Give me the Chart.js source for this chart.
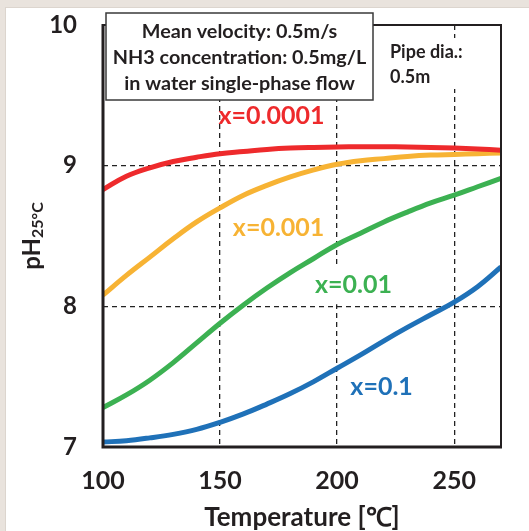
<!DOCTYPE html>
<html>
<head>
<meta charset="utf-8">
<script src="https://cdn.jsdelivr.net/npm/chart.js@4"></script>
<style>
  html, body { margin: 0; padding: 0; overflow: hidden; background: #e9e3dd; }
  #panel { position: absolute; left: 5px; top: 7px; right: 0; bottom: 0; background: #fff;
           border-left: 1px solid #dcd5ce; border-top: 1px solid #dcd5ce; }
  #wrap { position: absolute; left: 0; top: 0; width: 529px; height: 531px; }
</style>
</head>
<body>
<div id="panel"></div>
<div id="wrap"><canvas id="mainChart" width="529" height="531"></canvas></div>
<script>
// Data
const temps = [100, 110, 120, 130, 140, 150, 160, 170, 180, 190, 200, 210, 220, 230, 240, 250, 260, 270];
const phX0001 = [8.83, 8.925, 8.985, 9.03, 9.06, 9.085, 9.10, 9.115, 9.125, 9.13, 9.133, 9.135, 9.135, 9.133, 9.13, 9.125, 9.118, 9.11];
const phX001  = [8.08, 8.22, 8.35, 8.48, 8.60, 8.70, 8.79, 8.86, 8.92, 8.97, 9.01, 9.035, 9.05, 9.065, 9.075, 9.08, 9.085, 9.09];
const phX01   = [7.28, 7.37, 7.475, 7.60, 7.74, 7.88, 8.01, 8.13, 8.24, 8.34, 8.44, 8.52, 8.60, 8.67, 8.735, 8.79, 8.85, 8.91];
const phX1    = [7.035, 7.045, 7.065, 7.09, 7.125, 7.175, 7.235, 7.305, 7.38, 7.465, 7.56, 7.655, 7.755, 7.85, 7.94, 8.03, 8.14, 8.28];

const xTicks = [100, 150, 200, 250];
const yTicks = [7, 8, 9, 10];

// Curve labels (in data units)
const curveLabels = ['x=0.0001', 'x=0.001', 'x=0.01', 'x=0.1'];
const labelTemps = [172, 175, 207, 219];
const labelPh = [9.35, 8.56, 8.15, 7.43];
const labelBackdrop = [false, false, true, false];

const boxLines = ['Mean velocity: 0.5m/s', 'NH3 concentration: 0.5mg/L', 'in water single-phase flow'];
const pipeLines = ['Pipe dia.:', '0.5m'];

const colors = ['#ee2a2c', '#f7b334', '#3cb152', '#1f71b8'];
const textColor = '#231f20';
const FONT = 'Lato, "Open Sans", sans-serif';

function makeSeries(values, color) {
    return {
        data: temps.map((t, i) => ({ x: t, y: values[i] })),
        borderColor: color,
        borderWidth: 5,
        pointRadius: 0,
        tension: 0.4,
        fill: false
    };
}

// Extra drawing: frame, y title, notes, curve labels
const decorations = {
    id: 'decorations',
    afterDatasetsDraw(chart) {
        const ctx = chart.ctx;
        const area = chart.chartArea;
        const xs = chart.scales.x;
        const ys = chart.scales.y;
        ctx.save();

        // frame
        ctx.strokeStyle = textColor;
        ctx.lineWidth = 2;
        ctx.beginPath();
        ctx.moveTo(area.left, area.top);
        ctx.lineTo(area.right, area.top);
        ctx.lineTo(area.right, area.bottom);
        ctx.stroke();
        ctx.lineWidth = 3;
        ctx.beginPath();
        ctx.moveTo(area.left, area.top - 1);
        ctx.lineTo(area.left, area.bottom);
        ctx.lineTo(area.right + 1, area.bottom);
        ctx.stroke();

        // conditions box
        const bx = area.left + 3, by = area.top - 12, bw = 267, bh = 87;
        ctx.fillStyle = '#fff';
        ctx.fillRect(bx, by, bw, bh);
        ctx.strokeStyle = '#3a3a3a';
        ctx.lineWidth = 1.5;
        ctx.strokeRect(bx, by, bw, bh);
        ctx.fillStyle = textColor;
        ctx.font = 'bold 19.8px ' + FONT;
        ctx.textAlign = 'center';
        ctx.textBaseline = 'middle';
        boxLines.forEach((line, i) => {
            ctx.fillText(line, bx + bw / 2, by + 19 + i * 26);
        });

        // pipe diameter note
        const px = area.left + 287, py = area.top + 13;
        ctx.fillStyle = '#fff';
        ctx.fillRect(px - 6, py, 92, 51);
        ctx.fillStyle = textColor;
        ctx.font = 'bold 18px ' + FONT;
        ctx.textAlign = 'left';
        pipeLines.forEach((line, i) => {
            ctx.fillText(line, px, py + 14 + i * 25);
        });

        // curve labels
        ctx.font = 'bold 25px ' + FONT;
        ctx.textAlign = 'center';
        curveLabels.forEach((txt, i) => {
            const lx = xs.getPixelForValue(labelTemps[i]);
            const ly = ys.getPixelForValue(labelPh[i]);
            if (labelBackdrop[i]) {
                const w = ctx.measureText(txt).width;
                ctx.fillStyle = '#fff';
                ctx.fillRect(lx - w / 2 - 3, ly - 19, w + 6, 38);
            }
            ctx.fillStyle = colors[i];
            ctx.fillText(txt, lx, ly);
        });

        // y axis title with subscript
        ctx.fillStyle = textColor;
        ctx.translate(40, (area.top + area.bottom) / 2);
        ctx.rotate(-Math.PI / 2);
        ctx.textAlign = 'left';
        ctx.textBaseline = 'alphabetic';
        ctx.font = 'bold 24px ' + FONT;
        const w1 = ctx.measureText('pH').width;
        ctx.font = 'bold 16px ' + FONT;
        const w2 = ctx.measureText('25°C').width;
        const start = -(w1 + w2) / 2;
        ctx.font = 'bold 24px ' + FONT;
        ctx.fillText('pH', start, 0);
        ctx.font = 'bold 16px ' + FONT;
        ctx.fillText('25°C', start + w1, 3);

        ctx.restore();
    }
};

function createChart() {
    const ctx = document.getElementById('mainChart').getContext('2d');
    new Chart(ctx, {
        type: 'line',
        data: {
            datasets: [
                makeSeries(phX0001, colors[0]),
                makeSeries(phX001, colors[1]),
                makeSeries(phX01, colors[2]),
                makeSeries(phX1, colors[3])
            ]
        },
        options: {
            responsive: false,
            animation: false,
            layout: { padding: { left: 0, top: 25, right: 28, bottom: 0 } },
            plugins: {
                legend: { display: false },
                tooltip: { enabled: false }
            },
            scales: {
                x: {
                    type: 'linear',
                    min: 100,
                    max: 270,
                    afterBuildTicks: s => { s.ticks = xTicks.map(v => ({ value: v })); },
                    afterFit: s => { s.height = 84; },
                    border: { display: false, dash: [5, 4] },
                    grid: { color: '#222', lineWidth: 1.3, drawTicks: false },
                    ticks: {
                        padding: 19,
                        color: textColor,
                        font: { family: FONT, size: 25, weight: 'bold' }
                    },
                    title: {
                        display: true,
                        text: 'Temperature [℃]',
                        color: textColor,
                        padding: 0,
                        font: { family: FONT, size: 26, weight: 'bold', lineHeight: 1.0 }
                    }
                },
                y: {
                    min: 7,
                    max: 10,
                    afterBuildTicks: s => { s.ticks = yTicks.map(v => ({ value: v })); },
                    afterFit: s => {
                        s.width = 103;
                        // tick padding would otherwise push the plot top down
                        s.paddingTop = 0;
                        s.paddingBottom = 0;
                    },
                    border: { display: false, dash: [5, 4] },
                    grid: { color: '#222', lineWidth: 1.3, drawTicks: false },
                    ticks: {
                        padding: 26,
                        color: textColor,
                        font: { family: FONT, size: 24, weight: 'bold' }
                    }
                }
            }
        },
        plugins: [decorations]
    });
}

createChart();
</script>
</body>
</html>
